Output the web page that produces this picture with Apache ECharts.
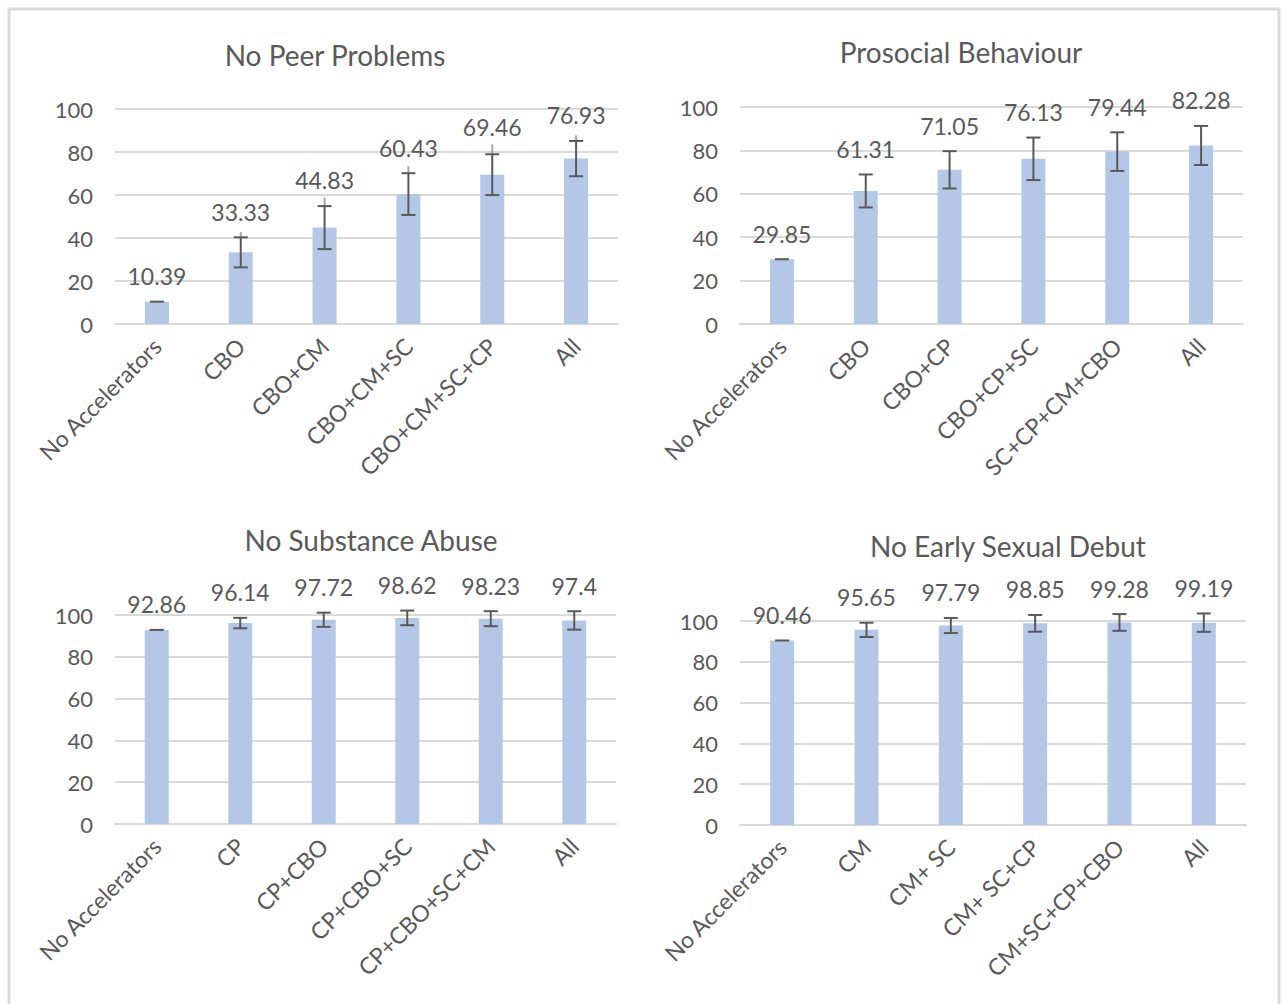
<!DOCTYPE html>
<html>
<head>
<meta charset="utf-8">
<title>Accelerators</title>
<script src="https://cdn.jsdelivr.net/npm/echarts@6/dist/echarts.min.js"></script>
<style>
    html, body { margin: 0; padding: 0; background: #fff; }
    #main { width: 1285px; height: 1004px; }
</style>
</head>
<body>
<div id="main"></div>
<script type="text/javascript">
    // ---- data ----
    var peerCats = ['No Accelerators', 'CBO', 'CBO+CM', 'CBO+CM+SC', 'CBO+CM+SC+CP', 'All'];
    var peerVals = [10.39, 33.33, 44.83, 60.43, 69.46, 76.93];
    var peerErr = [0, 7, 10, 9.7, 9.5, 8.2];
    var peerFaintTop = [10.39, 42.8, 58.8, 73.4, 83.5, 87.7];   // lighter whisker above the cap

    var prosCats = ['No Accelerators', 'CBO', 'CBO+CP', 'CBO+CP+SC', 'SC+CP+CM+CBO', 'All'];
    var prosVals = [29.85, 61.31, 71.05, 76.13, 79.44, 82.28];
    var prosErr = [0, 7.6, 8.6, 9.8, 8.9, 9];

    var subsCats = ['No Accelerators', 'CP', 'CP+CBO', 'CP+CBO+SC', 'CP+CBO+SC+CM', 'All'];
    var subsVals = [92.86, 96.14, 97.72, 98.62, 98.23, 97.4];
    var subsErr = [0, 2.5, 3.4, 3.5, 3.6, 4.4];

    var sexCats = ['No Accelerators', 'CM', 'CM+ SC', 'CM+ SC+CP', 'CM+SC+CP+CBO', 'All'];
    var sexVals = [90.46, 95.65, 97.79, 98.85, 99.28, 99.19];
    var sexErr = [0, 3.5, 3.7, 4.1, 4.1, 4.5];

    var titles = ['No Peer Problems', 'Prosocial Behaviour', 'No Substance Abuse', 'No Early Sexual Debut'];

    var FONT = 'Lato, "Liberation Sans", sans-serif';
    var TXT = '#595959';

    var myChart = echarts.init(document.getElementById('main'), null, {renderer: 'svg'});

    // error bar + value label drawn at the top of the whisker
    function errRender(params, api) {
        var i = api.value(0), v = api.value(1), e = api.value(2), faint = api.value(3);
        var top = api.coord([i, v + e]);
        var bot = api.coord([i, v - e]);
        var cx = top[0];
        var cap = 7;
        var kids = [];
        if (faint > v + e) {
            var ft = api.coord([i, faint]);
            kids.push({type: 'line', shape: {x1: cx, y1: ft[1], x2: cx, y2: top[1]},
                style: {stroke: '#a6a6a6', lineWidth: 2}});
        }
        kids.push({type: 'line', shape: {x1: cx, y1: top[1], x2: cx, y2: bot[1]}, style: {stroke: '#595959', lineWidth: 2}});
        kids.push({type: 'line', shape: {x1: cx - cap, y1: top[1], x2: cx + cap, y2: top[1]}, style: {stroke: '#595959', lineWidth: 2}});
        if (e > 0) {
            kids.push({type: 'line', shape: {x1: cx - cap, y1: bot[1], x2: cx + cap, y2: bot[1]}, style: {stroke: '#595959', lineWidth: 2}});
        }
        var labTop = Math.min(top[1], faint > v + e ? api.coord([i, faint])[1] + 8 : top[1]);
        kids.push({type: 'text', x: cx, y: labTop - 14,
            style: {text: String(v), fill: TXT, fontSize: 23, fontFamily: FONT, align: 'center', verticalAlign: 'bottom'}});
        return {type: 'group', children: kids};
    }

    var grids = [
        {left: 115, top: 109, width: 503, height: 215},
        {left: 740, top: 107, width: 503, height: 217},
        {left: 115, top: 615, width: 501, height: 209},
        {left: 740, top: 621, width: 506, height: 204}
    ];
    var titlePos = [[330, 36], [956, 33], [366, 521], [1003, 527]];
    var catsList = [peerCats, prosCats, subsCats, sexCats];
    var valsList = [peerVals, prosVals, subsVals, sexVals];
    var errList = [peerErr, prosErr, subsErr, sexErr];

    var option = {
        backgroundColor: '#fff',
        animation: false,
        title: [],
        grid: [],
        xAxis: [],
        yAxis: [],
        series: [],
        graphic: [{
            type: 'rect', silent: true,
            shape: {x: 9, y: 9, width: 1270, height: 1010},
            style: {fill: 'none', stroke: '#d9d9d9', lineWidth: 3}
        }]
    };

    for (var k = 0; k < 4; k++) {
        option.grid.push(grids[k]);
        option.title.push({
            text: titles[k], left: titlePos[k][0], top: titlePos[k][1], textAlign: 'center',
            textStyle: {color: TXT, fontSize: 28, fontWeight: 'normal', fontFamily: FONT}
        });
        option.xAxis.push({
            type: 'category', gridIndex: k, data: catsList[k],
            axisLine: {lineStyle: {color: '#d9d9d9', width: 2}},
            axisTick: {show: false},
            axisLabel: {rotate: 45, color: TXT, fontSize: 23, fontFamily: FONT, margin: 18, interval: 0}
        });
        option.yAxis.push({
            type: 'value', gridIndex: k, min: 0, max: 100, interval: 20,
            axisLine: {show: false}, axisTick: {show: false},
            axisLabel: {color: TXT, fontSize: 22, fontFamily: FONT, margin: 22},
            splitLine: {lineStyle: {color: '#d9d9d9', width: 2}}
        });
        option.series.push({
            type: 'bar', xAxisIndex: k, yAxisIndex: k, barWidth: 24,
            itemStyle: {color: '#b4c7e7'},
            data: valsList[k]
        });
        var ed = [];
        for (var i = 0; i < valsList[k].length; i++) {
            var faint = (k === 0) ? peerFaintTop[i] : valsList[k][i];
            ed.push([i, valsList[k][i], errList[k][i], faint]);
        }
        option.series.push({
            type: 'custom', xAxisIndex: k, yAxisIndex: k, clip: false, z: 5,
            encode: {x: 0, y: 1},
            renderItem: errRender,
            data: ed
        });
    }

    myChart.setOption(option);
</script>
</body>
</html>
